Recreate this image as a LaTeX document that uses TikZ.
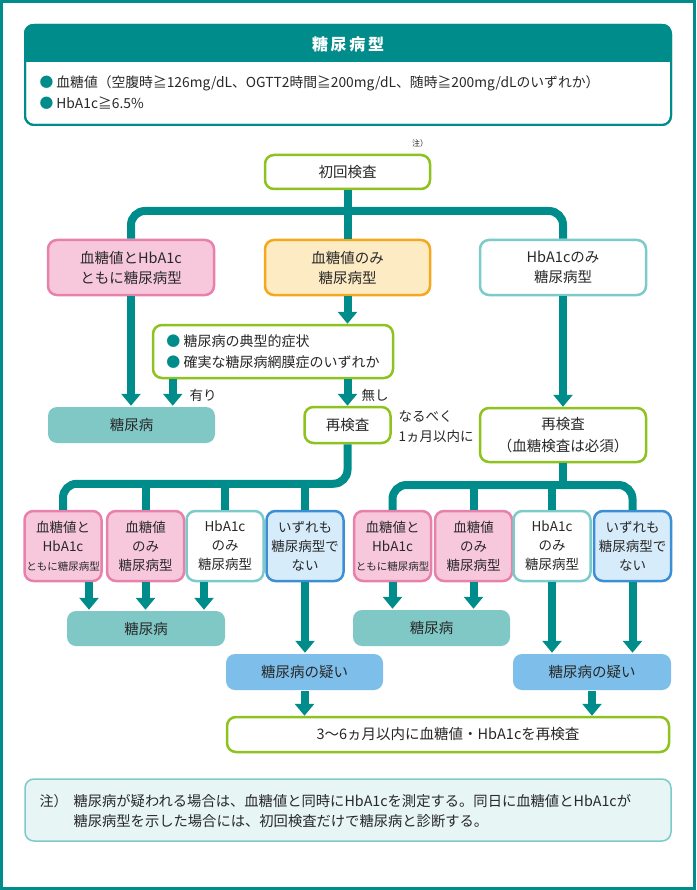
\documentclass[tikz,border=0pt]{standalone}
\usepackage{fontspec}
\setmainfont{Noto Sans CJK JP}
\usetikzlibrary{arrows.meta, positioning, calc}

\definecolor{dmteal}{RGB}{0,140,138}
\definecolor{leafgreen}{RGB}{141,194,31}
\definecolor{pinkfill}{RGB}{247,200,220}
\definecolor{pinkline}{RGB}{232,128,172}
\definecolor{orangefill}{RGB}{253,235,195}
\definecolor{orangeline}{RGB}{245,168,30}
\definecolor{paleteal}{RGB}{124,202,202}
\definecolor{dmfill}{RGB}{128,200,198}
\definecolor{bluefill}{RGB}{215,236,250}
\definecolor{blueline}{RGB}{60,143,213}
\definecolor{suspfill}{RGB}{125,191,234}
\definecolor{notefill}{RGB}{232,245,245}
\definecolor{ink}{RGB}{40,40,40}

\begin{document}
\begin{tikzpicture}[x=1pt, y=-1pt,
box/.style = {rounded corners=9pt, line width=2.5pt, align=center, text=ink, inner sep=0pt,
  font=\fontsize{14.5}{20}\selectfont},
green box/.style = {box, draw=leafgreen, fill=white},
pink box/.style = {box, draw=pinkline, fill=pinkfill},
orange box/.style = {box, draw=orangeline, fill=orangefill},
teal box/.style = {box, draw=paleteal, fill=white},
blue box/.style = {box, draw=blueline, fill=bluefill},
result box/.style = {box, fill=dmfill},
doubt box/.style = {box, fill=suspfill},
low box/.style = {minimum width=77, minimum height=70, font=\fontsize{13.5}{19}\selectfont},
side label/.style = {text=ink, anchor=west, align=left, font=\fontsize{13.5}{20}\selectfont},
trunk/.style = {draw=dmteal, line width=8pt, rounded corners=14pt},
flow/.style = {trunk, -{Triangle[width=19pt,length=12pt]}}
]
\useasboundingbox (0,0) rectangle (696,890);
\draw[dmteal, line width=3pt] (1.5,1.5) rectangle (694.5,888.5);

% criteria
\node (crit) at (348,75) [box, draw=dmteal, line width=2pt, minimum width=646, minimum height=100] {};
\begin{scope}
\clip[rounded corners=9pt] (crit.north west) rectangle (crit.south east);
\fill[dmteal] (crit.north west) rectangle (671,62);
\end{scope}
\draw[dmteal, line width=2pt, rounded corners=9pt] (25,25) rectangle (671,125);
\node (crittitle) at (348,44) [text=white, font=\bfseries\fontsize{16}{16}\selectfont] {糖\,尿\,病\,型};
\node (critlist) at (36,92.5) [side label, font=\fontsize{13.8}{21}\selectfont]
  {\textcolor{dmteal}{●} 血糖値（空腹時≧126mg/dL、OGTT2時間≧200mg/dL、随時≧200mg/dLのいずれか）\\
   \textcolor{dmteal}{●} HbA1c≧6.5\%};

% first test
\node (init) at (347.5,172) [green box, minimum width=165, minimum height=34] {初回検査};
\node (initnote) at (420,143) [text=ink, font=\fontsize{8}{8}\selectfont] {注）};

\node (both) at (131,267.5) [pink box, minimum width=166, minimum height=55] {血糖値とHbA1c\\ともに糖尿病型};
\node (glu) at (347.5,267.5) [orange box, minimum width=165, minimum height=55] {血糖値のみ\\糖尿病型};
\node (hba) at (563,267.5) [teal box, minimum width=166, minimum height=55] {HbA1cのみ\\糖尿病型};

\node (sym) at (273,351.5) [green box, minimum width=240, minimum height=53, align=left,
  font=\fontsize{14}{21}\selectfont]
  {\textcolor{dmteal}{●} 糖尿病の典型的症状\\\textcolor{dmteal}{●} 確実な糖尿病網膜症のいずれか};

\node (dm1) at (131.5,425) [result box, minimum width=167, minimum height=36] {糖尿病};
\node (retest) at (347.5,425) [green box, minimum width=86, minimum height=36] {再検査};
\node (soon) at (395,427) [side label] {なるべく\\1ヵ月以内に};
\node (retest2) at (563,435) [green box, minimum width=166, minimum height=54, font=\fontsize{14.5}{22}\selectfont]
  {再検査\\（血糖検査は必須）};

\node (yes) at (186,395) [side label] {有り};
\node (no) at (358,395) [side label] {無し};

% second test, left
\node (L1) at (63,546) [pink box, low box] {血糖値と\\HbA1c\\{\fontsize{10.5}{19}\selectfont ともに糖尿病型}};
\node (L2) at (145.5,546) [pink box, low box] {血糖値\\のみ\\糖尿病型};
\node (L3) at (225,546) [teal box, low box] {HbA1c\\のみ\\糖尿病型};
\node (L4) at (305,546) [blue box, low box] {いずれも\\糖尿病型で\\ない};

% second test, right
\node (R1) at (392.5,546) [pink box, low box] {血糖値と\\HbA1c\\{\fontsize{10.5}{19}\selectfont ともに糖尿病型}};
\node (R2) at (473.5,546) [pink box, low box] {血糖値\\のみ\\糖尿病型};
\node (R3) at (552,546) [teal box, low box] {HbA1c\\のみ\\糖尿病型};
\node (R4) at (632.5,546) [blue box, low box] {いずれも\\糖尿病型で\\ない};

\node (dmL) at (146,628.5) [result box, minimum width=158, minimum height=35] {糖尿病};
\node (dmR) at (431.5,628) [result box, minimum width=157, minimum height=36] {糖尿病};
\node (doubtL) at (304.5,672) [doubt box, minimum width=157, minimum height=36] {糖尿病の疑い};
\node (doubtR) at (592,672) [doubt box, minimum width=158, minimum height=36] {糖尿病の疑い};
\node (final) at (448,734.5) [green box, minimum width=442, minimum height=35] {3〜6ヵ月以内に血糖値・HbA1cを再検査};

% footnote
\node (notebox) at (348,810) [box, draw=paleteal, fill=notefill, line width=1.5pt, minimum width=646, minimum height=62] {};
\node (notemark) at (36,801) [side label, font=\fontsize{14}{20}\selectfont] {注）};
\node (notetext) at (70,811) [side label, font=\fontsize{14.3}{20}\selectfont] {糖尿病が疑われる場合は、血糖値と同時にHbA1cを測定する。同日に血糖値とHbA1cが\\糖尿病型を示した場合には、初回検査だけで糖尿病と診断する。};

% connectors
\coordinate (fork) at (347.5,211);
\draw[trunk] (init.south) -- (glu.north);
\draw[trunk] (fork) -| (both.north);
\draw[trunk] (fork) -| (hba.north);

\draw[flow] (both.south) -- (both.south |- dm1.north);
\draw[flow] (glu.south) -- (glu.south |- sym.north);
\draw[flow] ([xshift=21pt]sym.south west) -- ([xshift=21pt]sym.south west |- dm1.north);
\draw[flow] (sym.south -| retest.north) -- (retest.north);
\draw[flow] (hba.south) -- (retest2.north);

\path ([yshift=26pt]L1.north) coordinate (barL);
\draw[trunk] (retest.south) |- (barL) -- (L1.north);
\draw[trunk] (L2.north |- barL) -- (L2.north);
\draw[trunk] (L3.north |- barL) -- (L3.north);
\draw[trunk] (L4.north |- barL) -- (L4.north);

\coordinate (barR) at (563,485);
\draw[trunk] (retest2.south) -- (barR);
\draw[trunk] (barR) -| (R1.north);
\draw[trunk] (barR) -| (R4.north);
\draw[trunk] (R2.north |- barR) -- (R2.north);
\draw[trunk] (R3.north |- barR) -- (R3.north);

\draw[flow] ([xshift=26pt]L1.south) -- ([xshift=26pt]L1.south |- dmL.north);
\draw[flow] (L2.south) -- (L2.south |- dmL.north);
\draw[flow] ([xshift=-21pt]L3.south) -- ([xshift=-21pt]L3.south |- dmL.north);
\draw[flow] (L4.south) -- (L4.south |- doubtL.north);

\draw[flow] (R1.south) -- (R1.south |- dmR.north);
\draw[flow] (R2.south) -- (R2.south |- dmR.north);
\draw[flow] (R3.south) -- (R3.south |- doubtR.north);
\draw[flow] (R4.south) -- (R4.south |- doubtR.north);

\draw[flow] (doubtL.south) -- (doubtL.south |- final.north);
\draw[flow] (doubtR.south) -- (doubtR.south |- final.north);
\end{tikzpicture}
\end{document}
